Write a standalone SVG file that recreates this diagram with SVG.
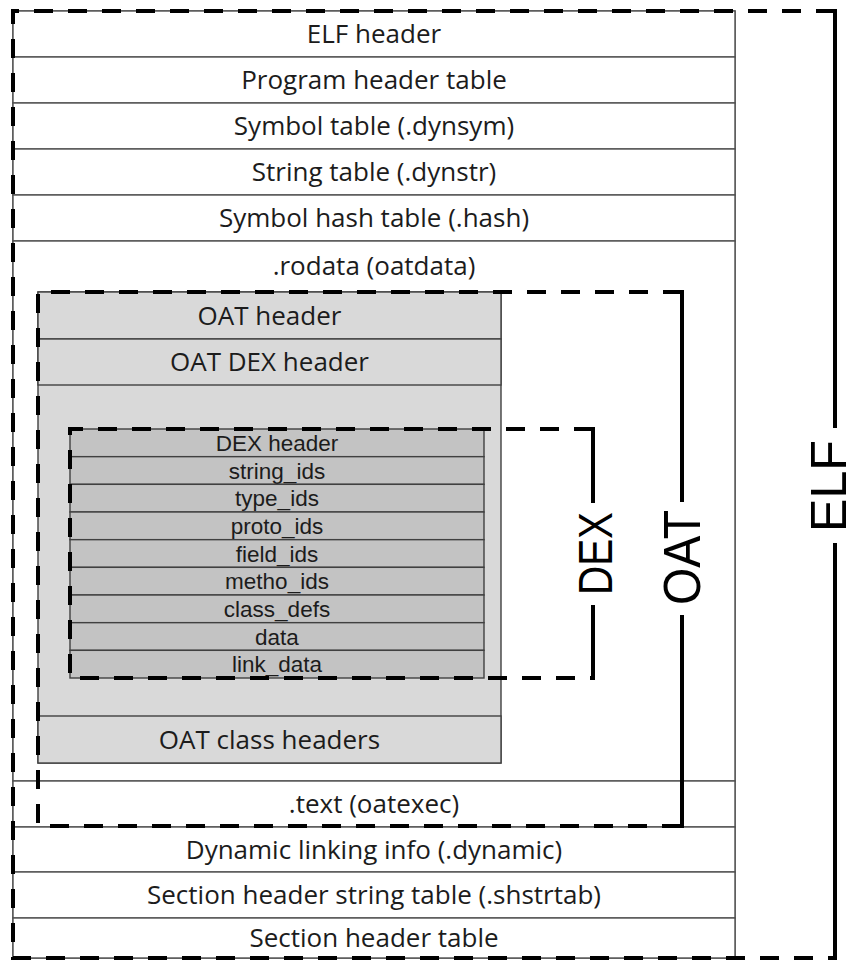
<svg xmlns="http://www.w3.org/2000/svg" width="857" height="961" viewBox="0 0 857 961">
<style>
  .row { fill: #ffffff; stroke: #505050; stroke-width: 1.4; }
  .oat { fill: #d9d9d9; stroke: #404040; stroke-width: 1.4; }
  .dex { fill: #c3c3c3; stroke: #404040; stroke-width: 1.4; }
  .t { font-family: "Open Sans", "Liberation Sans", sans-serif; font-size: 26px; fill: #1c1c1c; text-anchor: middle; }
  .td { font-family: "Liberation Sans", "Open Sans", sans-serif; font-size: 22.5px; fill: #1c1c1c; text-anchor: middle; }
  .dash { fill: none; stroke: #000; stroke-width: 4; stroke-dasharray: 19 15; }
  .solid { fill: none; stroke: #000; stroke-width: 4; }
  .lbl { font-family: "Liberation Sans", "DejaVu Sans", sans-serif; fill: #000; text-anchor: middle; }
</style>

<g id="elf-table">
  <rect class="row" x="13" y="11" width="722" height="947"/>
  <g id="elf-header"><rect class="row" x="13" y="11" width="722" height="46"/><text class="t" x="374" y="43.3">ELF header</text></g>
  <g id="program-header-table"><rect class="row" x="13" y="57" width="722" height="46"/><text class="t" x="374" y="89.3">Program header table</text></g>
  <g id="symbol-table"><rect class="row" x="13" y="103" width="722" height="46"/><text class="t" x="374" y="135.3">Symbol table (.dynsym)</text></g>
  <g id="string-table"><rect class="row" x="13" y="149" width="722" height="46"/><text class="t" x="374" y="181.3">String table (.dynstr)</text></g>
  <g id="symbol-hash-table"><rect class="row" x="13" y="195" width="722" height="46"/><text class="t" x="374" y="227.3">Symbol hash table (.hash)</text></g>
  <g id="rodata"><rect class="row" x="13" y="241" width="722" height="540"/><text class="t" x="374" y="275.3">.rodata (oatdata)</text></g>
  <g id="text"><rect class="row" x="13" y="781" width="722" height="46"/><text class="t" x="374" y="813.3">.text (oatexec)</text></g>
  <g id="dynamic"><rect class="row" x="13" y="827" width="722" height="45"/><text class="t" x="374" y="858.8">Dynamic linking info (.dynamic)</text></g>
  <g id="shstrtab"><rect class="row" x="13" y="872" width="722" height="46"/><text class="t" x="374" y="904.3">Section header string table (.shstrtab)</text></g>
  <g id="section-header-table"><rect class="row" x="13" y="918" width="722" height="40"/><text class="t" x="374" y="947">Section header table</text></g>
</g>

<g id="oat-table">
  <rect class="oat" x="38" y="292" width="463" height="471"/>
  <g id="oat-header"><rect class="oat" x="38" y="292" width="463" height="47"/><text class="t" x="269.5" y="324.8">OAT header</text></g>
  <g id="oat-dex-header"><rect class="oat" x="38" y="339" width="463" height="46"/><text class="t" x="269.5" y="371.3">OAT DEX header</text></g>
  <g id="oat-class-headers"><rect class="oat" x="38" y="716" width="463" height="47"/><text class="t" x="269.5" y="748.8">OAT class headers</text></g>
</g>

<g id="dex-table">
  <g id="dex-header"><rect class="dex" x="70" y="429" width="414" height="27.67"/><text class="td" x="277" y="450.9">DEX header</text></g>
  <g id="string-ids"><rect class="dex" x="70" y="456.67" width="414" height="27.67"/><text class="td" x="277" y="478.6">string_ids</text></g>
  <g id="type-ids"><rect class="dex" x="70" y="484.33" width="414" height="27.67"/><text class="td" x="277" y="506.3">type_ids</text></g>
  <g id="proto-ids"><rect class="dex" x="70" y="512" width="414" height="27.67"/><text class="td" x="277" y="533.9">proto_ids</text></g>
  <g id="field-ids"><rect class="dex" x="70" y="539.67" width="414" height="27.67"/><text class="td" x="277" y="561.6">field_ids</text></g>
  <g id="metho-ids"><rect class="dex" x="70" y="567.33" width="414" height="27.67"/><text class="td" x="277" y="589.3">metho_ids</text></g>
  <g id="class-defs"><rect class="dex" x="70" y="595" width="414" height="27.67"/><text class="td" x="277" y="616.9">class_defs</text></g>
  <g id="data"><rect class="dex" x="70" y="622.67" width="414" height="27.67"/><text class="td" x="277" y="644.6">data</text></g>
  <g id="link-data"><rect class="dex" x="70" y="650.33" width="414" height="27.67"/><text class="td" x="277" y="672.3">link_data</text></g>
</g>

<g id="connectors">
  <g id="elf-bracket">
    <path class="dash" d="M835 11 H13 V958 H835"/>
    <path class="solid" d="M835 9 V428 M835 543 V960"/>
    <text class="lbl" font-size="50" textLength="92" lengthAdjust="spacingAndGlyphs" transform="translate(846,486) rotate(-90)">ELF</text>
  </g>
  <g id="oat-bracket">
    <path class="dash" d="M682 292 H38 V826 H682"/>
    <path class="solid" d="M682 290 V502 M682 615 V828"/>
    <text class="lbl" font-size="51" textLength="95" lengthAdjust="spacingAndGlyphs" transform="translate(700,557.5) rotate(-90)">OAT</text>
  </g>
  <g id="dex-bracket">
    <path class="dash" d="M593 429 H70 V678 H593"/>
    <path class="solid" d="M593 427 V503 M593 605 V680"/>
    <text class="lbl" font-size="48" textLength="83" lengthAdjust="spacingAndGlyphs" transform="translate(612,553.5) rotate(-90)">DEX</text>
  </g>
</g>
</svg>
